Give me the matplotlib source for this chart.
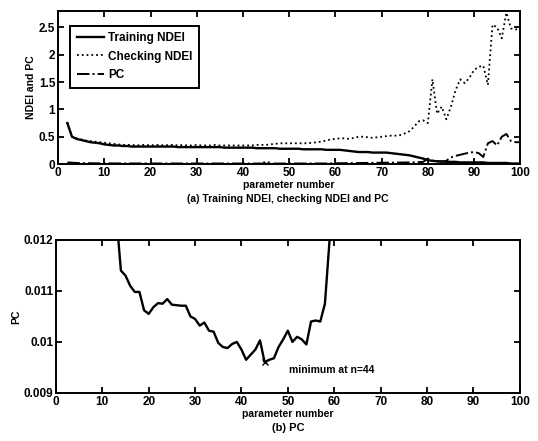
import matplotlib
matplotlib.use("Agg")
import matplotlib.pyplot as plt

plt.rcParams['font.family'] = ['Liberation Sans', 'DejaVu Sans']
plt.rcParams['font.weight'] = 'bold'

# ---- data ----
n_top = list(range(2, 101))
training_ndei = [
    0.75, 0.50, 0.46, 0.44, 0.42, 0.40, 0.39, 0.38, 0.36, 0.35,   # 2-11
    0.34, 0.34, 0.33, 0.33, 0.32, 0.32, 0.32, 0.32, 0.32, 0.32,   # 12-21
    0.32, 0.32, 0.32, 0.32, 0.31, 0.31, 0.31, 0.31, 0.31, 0.31,   # 22-31
    0.31, 0.31, 0.31, 0.31, 0.30, 0.30, 0.30, 0.30, 0.30, 0.30,   # 32-41
    0.30, 0.29, 0.29, 0.29, 0.29, 0.29, 0.28, 0.28, 0.28, 0.28,   # 42-51
    0.28, 0.27, 0.27, 0.27, 0.27, 0.27, 0.26, 0.26, 0.26, 0.26,   # 52-61
    0.25, 0.24, 0.23, 0.22, 0.22, 0.22, 0.21, 0.21, 0.21, 0.21,   # 62-71
    0.20, 0.19, 0.18, 0.17, 0.16, 0.14, 0.12, 0.10, 0.07, 0.06,   # 72-81
    0.05, 0.05, 0.04, 0.04, 0.04, 0.03, 0.03, 0.03, 0.03, 0.03,   # 82-91
    0.03, 0.02, 0.02, 0.02, 0.02, 0.02, 0.01, 0.01, 0.01,         # 92-100
]
checking_ndei = [
    0.76, 0.50, 0.47, 0.45, 0.43, 0.42, 0.41, 0.40, 0.39, 0.38,   # 2-11
    0.37, 0.36, 0.35, 0.35, 0.35, 0.34, 0.35, 0.35, 0.34, 0.35,   # 12-21
    0.35, 0.34, 0.35, 0.35, 0.34, 0.35, 0.34, 0.34, 0.35, 0.34,   # 22-31
    0.34, 0.34, 0.35, 0.34, 0.34, 0.34, 0.34, 0.34, 0.34, 0.34,   # 32-41
    0.34, 0.35, 0.35, 0.35, 0.36, 0.37, 0.38, 0.38, 0.38, 0.38,   # 42-51
    0.38, 0.38, 0.38, 0.39, 0.40, 0.41, 0.43, 0.45, 0.46, 0.47,   # 52-61
    0.47, 0.46, 0.48, 0.50, 0.50, 0.49, 0.48, 0.49, 0.50, 0.51,   # 62-71
    0.52, 0.52, 0.53, 0.56, 0.60, 0.68, 0.78, 0.80, 0.75, 1.55,   # 72-81
    0.92, 1.05, 0.82, 1.05, 1.35, 1.55, 1.48, 1.58, 1.72, 1.78,   # 82-91
    1.80, 1.45, 2.55, 2.50, 2.30, 2.77, 2.48, 2.46, 2.50,         # 92-100
]
pc_top = [
    0.030, 0.025, 0.020, 0.018, 0.016, 0.015, 0.014, 0.013, 0.0128, 0.0125,  # 2-11
    0.0122, 0.0121, 0.0114, 0.0113, 0.0111, 0.0110, 0.0110, 0.0106, 0.0106, 0.0107,  # 12-21
    0.0108, 0.0108, 0.0107, 0.0108, 0.0107, 0.0107, 0.0107, 0.0105, 0.0105, 0.0103,  # 22-31
    0.0104, 0.0102, 0.0102, 0.0100, 0.0099, 0.0099, 0.0100, 0.0100, 0.0099, 0.0097,  # 32-41
    0.0098, 0.0099, 0.0100, 0.0096, 0.0097, 0.0097, 0.0099, 0.0101, 0.0102, 0.0100,  # 42-51
    0.0101, 0.0101, 0.0100, 0.0104, 0.0104, 0.0104, 0.0108, 0.0120, 0.0140, 0.015,   # 52-61
    0.016, 0.017, 0.018, 0.019, 0.020, 0.021, 0.022, 0.023, 0.024, 0.025,           # 62-71
    0.026, 0.027, 0.028, 0.029, 0.030, 0.032, 0.035, 0.040, 0.10, 0.06,             # 72-81
    0.05, 0.04, 0.06, 0.12, 0.15, 0.17, 0.19, 0.21, 0.22, 0.20,                     # 82-91
    0.13, 0.38, 0.42, 0.34, 0.50, 0.55, 0.42, 0.40,                                 # 92-99
    0.40,                                                                            # 100
]
pc_top = pc_top[:len(n_top)]

n_pc = list(range(13, 61))
pc_values = [
    0.0125, 0.01140, 0.01130, 0.01110, 0.01098, 0.01098, 0.01062, 0.01055, 0.01068, 0.01076,  # 13-22
    0.01075, 0.01084, 0.01073, 0.01072, 0.01071, 0.01071, 0.01050, 0.01045, 0.01032, 0.01038,  # 23-32
    0.01022, 0.01020, 0.00998, 0.00990, 0.00988, 0.00996, 0.01000, 0.00985, 0.00965, 0.00975,  # 33-42
    0.00985, 0.01003, 0.00960, 0.00965, 0.00968, 0.00990, 0.01005, 0.01022, 0.01000, 0.01010,  # 43-52
    0.01005, 0.00995, 0.01040, 0.01042, 0.01040, 0.01075, 0.01200, 0.01300,                    # 53-60
]
min_n = 45
min_pc = 0.00960
min_label = "minimum at n=44"

x_ticks = [0, 10, 20, 30, 40, 50, 60, 70, 80, 90, 100]
top_yticks = [0, 0.5, 1, 1.5, 2, 2.5]
top_yticklabels = ["0", "0.5", "1", "1.5", "2", "2.5"]
bot_yticks = [0.009, 0.010, 0.011, 0.012]
bot_yticklabels = ["0.009", "0.01", "0.011", "0.012"]

fig = plt.figure(figsize=(5.38, 4.41), dpi=100)
ax1 = fig.add_axes([0.108, 0.628, 0.859, 0.347])
ax2 = fig.add_axes([0.104, 0.109, 0.862, 0.347])

def style(ax):
    ax.tick_params(direction='in', top=True, right=True, length=4, width=1.3,
                   labelsize=8.5, pad=2)
    for lab in ax.get_xticklabels() + ax.get_yticklabels():
        lab.set_fontweight('bold')
    for s in ax.spines.values():
        s.set_linewidth(1.4)

ax1.plot(n_top, training_ndei, '-', color='black', lw=1.7, label='Training NDEI')
ax1.plot(n_top, checking_ndei, ':', color='black', lw=1.3, label='Checking NDEI')
ax1.plot(n_top, pc_top, '-.', color='black', lw=1.4, label='PC')
ax1.plot([min_n], [min_pc], 'x', color='black', ms=4, mew=1)
ax1.set_xlim(0, 100)
ax1.set_ylim(0, 2.8)
ax1.set_xticks(x_ticks)
ax1.set_yticks(top_yticks)
ax1.set_yticklabels(top_yticklabels)
style(ax1)
ax1.set_xlabel('parameter number', fontsize=7.5, fontweight='bold', labelpad=1)
ax1.set_ylabel('NDEI and PC', fontsize=7.5, fontweight='bold', labelpad=2)
leg = ax1.legend(loc='upper left', bbox_to_anchor=(0.026, 0.905), fancybox=False,
                 edgecolor='black', framealpha=1, fontsize=8.5, handlelength=2.3,
                 handletextpad=0.4, borderpad=0.55, labelspacing=0.55,
                 borderaxespad=0)
leg.get_frame().set_linewidth(1.4)
for t in leg.get_texts():
    t.set_fontweight('bold')

ax2.plot(n_pc, pc_values, '-', color='black', lw=1.7)
ax2.plot([min_n], [min_pc], 'x', color='black', ms=5, mew=1)
ax2.text(50.3, 0.00945, min_label, fontsize=7.5, fontweight='bold', va='center')
ax2.set_xlim(0, 100)
ax2.set_ylim(0.009, 0.012)
ax2.set_xticks(x_ticks)
ax2.set_yticks(bot_yticks)
ax2.set_yticklabels(bot_yticklabels)
style(ax2)
ax2.set_xlabel('parameter number', fontsize=7.5, fontweight='bold', labelpad=1)
ax2.set_ylabel('PC', fontsize=7.5, fontweight='bold', labelpad=2)

fig.text(0.535, 0.548, '(a) Training NDEI, checking NDEI and PC', ha='center',
         va='center', fontsize=7.5, fontweight='bold')
fig.text(0.535, 0.030, '(b) PC', ha='center', va='center', fontsize=8,
         fontweight='bold')

fig.savefig('out.png', dpi=100)
